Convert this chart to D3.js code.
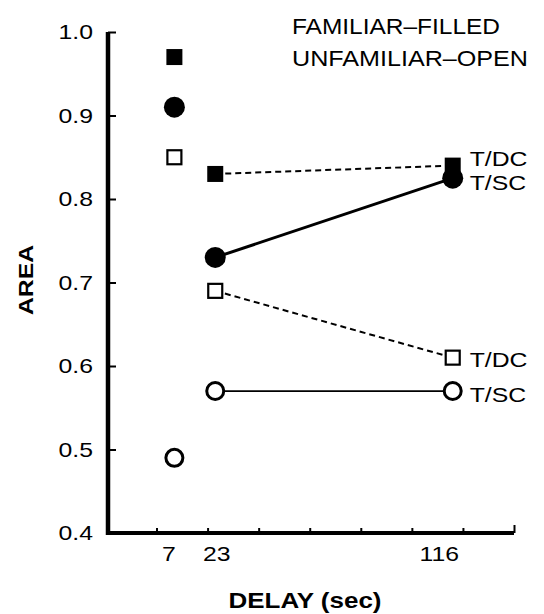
<!DOCTYPE html>
<html>
<head>
<meta charset="utf-8">
<script src="https://cdn.jsdelivr.net/npm/d3@7"></script>
<style>
  html, body { margin: 0; padding: 0; background: #fff; }
  svg { display: block; }
  text { font-family: "Liberation Sans", Arial, Helvetica, sans-serif; fill: #000; }
</style>
</head>
<body>
<svg id="chart" width="544" height="614"></svg>
<script>
// ---------------- data ----------------
const delays = [7, 23, 116];                 // DELAY (sec)
const familiarDC   = [0.97, 0.83, 0.84];     // filled square, T/DC
const familiarSC   = [0.91, 0.73, 0.825];    // filled circle, T/SC
const unfamiliarDC = [0.85, 0.69, 0.61];     // open square, T/DC
const unfamiliarSC = [0.49, 0.57, 0.57];     // open circle, T/SC
const yTicks = [0.4, 0.5, 0.6, 0.7, 0.8, 0.9, 1.0];
const xMinorTicks = [0, 20, 40, 60, 80, 100, 120, 140];
const xTickLabels = [7, 23, 116];
const legendLines = ["FAMILIAR\u2013FILLED", "UNFAMILIAR\u2013OPEN"];
const seriesNames = ["T/DC", "T/SC", "T/DC", "T/SC"];

// ---------------- layout / style ----------------
const svg = d3.select("#chart");
const X0 = 108, X1 = 514, Y0 = 533, Y1 = 32;
const x = d3.scaleLinear().domain([-19, 140]).range([X0, X1]);
const y = d3.scaleLinear().domain([0.4, 1.0]).range([Y0, Y1]);
const STRETCH = 1.18;
const legendWidths = [208, 236];

const series = [
  { values: familiarDC,   shape: "square", filled: true,  dash: "6,4", lw: 2,   labelDy: 0 },
  { values: familiarSC,   shape: "circle", filled: true,  dash: null,  lw: 3,   labelDy: 12 },
  { values: unfamiliarDC, shape: "square", filled: false, dash: "6,4", lw: 2,   labelDy: 9 },
  { values: unfamiliarSC, shape: "circle", filled: false, dash: null,  lw: 1.8, labelDy: 11 }
];

// axes
const yAxis = d3.axisLeft(y).tickValues(yTicks).tickFormat(d3.format(".1f"))
  .tickSizeInner(-8).tickSizeOuter(0).tickPadding(15);
const gy = svg.append("g").attr("transform", `translate(${X0},0)`).call(yAxis);
gy.select(".domain").attr("stroke", "#000").attr("stroke-width", 4.5)
  .attr("d", `M0,${Y0 + 2}V${Y1}`);
gy.selectAll(".tick line").attr("stroke", "#000").attr("stroke-width", 2);
gy.selectAll(".tick text").attr("font-size", 21).attr("font-family", null);

const xAxis = d3.axisBottom(x).tickValues(xMinorTicks).tickFormat("")
  .tickSizeInner(-5).tickSizeOuter(0);
const gx = svg.append("g").attr("transform", `translate(0,${Y0})`).call(xAxis);
gx.select(".domain").attr("stroke", "#000").attr("stroke-width", 4)
  .attr("d", `M${X0 - 2},0H${X1}`);
gx.selectAll(".tick line").attr("stroke", "#000").attr("stroke-width", 2);
gx.selectAll(".tick").filter(d => d === 140).select("line").attr("y2", -8);

const labelDx = { 7: -6, 23: 1, 116: -14 };
const xLab = d3.axisBottom(x).tickValues(xTickLabels).tickFormat(d3.format("d"))
  .tickSize(0).tickPadding(13);
const gxl = svg.append("g").attr("transform", `translate(0,${Y0})`).call(xLab);
gxl.select(".domain").remove();
gxl.selectAll(".tick text").attr("font-size", 21).attr("font-family", null)
  .attr("dx", d => labelDx[d]);

// axis titles
svg.append("text").attr("class", "stretch")
  .attr("transform", `translate(33,280) rotate(-90)`)
  .attr("text-anchor", "middle").attr("font-size", 21).attr("font-weight", "bold")
  .text("AREA");
svg.append("text").attr("class", "stretch")
  .attr("x", 305).attr("y", 608)
  .attr("text-anchor", "middle").attr("font-size", 22).attr("font-weight", "bold")
  .text("DELAY (sec)");

// series labels at the last point
svg.append("g").selectAll("text").data(series).join("text")
  .attr("class", "stretch")
  .attr("x", x(delays[2]) + 17)
  .attr("y", s => y(s.values[2]) + s.labelDy)
  .attr("font-size", 21)
  .text((s, i) => seriesNames[i]);

// horizontally widen text to match the original (wide) typeface
svg.selectAll("text").each(function () {
  const w = this.getComputedTextLength();
  if (w > 0) {
    d3.select(this).attr("textLength", w * STRETCH).attr("lengthAdjust", "spacingAndGlyphs");
  }
});

// legend (fixed widths)
svg.append("g").selectAll("text").data(legendLines).join("text")
  .attr("x", 292).attr("y", (d, i) => 34 + i * 32)
  .attr("font-size", 22)
  .attr("textLength", (d, i) => legendWidths[i])
  .attr("lengthAdjust", "spacingAndGlyphs")
  .text(d => d);

// connecting lines (23 -> 116 only)
const line = d3.line().x(d => x(d[0])).y(d => y(d[1]));
series.forEach(s => {
  const pts = delays.map((d, i) => [d, s.values[i]]).slice(1);
  svg.append("path").attr("d", line(pts)).attr("fill", "none")
    .attr("stroke", "#000").attr("stroke-width", s.lw)
    .attr("stroke-dasharray", s.dash);
});

// markers
series.forEach(s => {
  const g = svg.append("g");
  const pts = delays.map((d, i) => [d, s.values[i]]);
  if (s.shape === "square") {
    const sz = s.filled ? 16 : 14;
    g.selectAll("rect").data(pts).join("rect")
      .attr("x", d => x(d[0]) - sz / 2).attr("y", d => y(d[1]) - sz / 2)
      .attr("width", sz).attr("height", sz)
      .attr("fill", s.filled ? "#000" : "#fff")
      .attr("stroke", "#000").attr("stroke-width", s.filled ? 0 : 2.2);
  } else {
    const r = s.filled ? 10.5 : 8.5;
    g.selectAll("circle").data(pts).join("circle")
      .attr("cx", d => x(d[0])).attr("cy", d => y(d[1])).attr("r", r)
      .attr("fill", s.filled ? "#000" : "#fff")
      .attr("stroke", "#000").attr("stroke-width", s.filled ? 0 : 3);
  }
});
</script>
</body>
</html>
